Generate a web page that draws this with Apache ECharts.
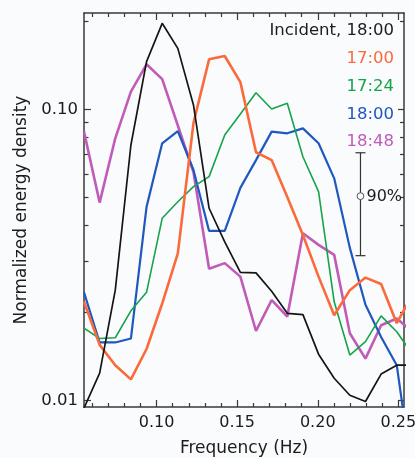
<!DOCTYPE html>
<html>
<head>
<meta charset="utf-8">
<script src="https://cdn.jsdelivr.net/npm/echarts@6/dist/echarts.min.js"></script>
<style>
  html, body { margin: 0; padding: 0; background: #fafbfd; }
  #chart { width: 415px; height: 458px; }
</style>
</head>
<body>
<div id="chart"></div>
<script>
// frequency bins (Hz)
const freq = [0.0550, 0.0647, 0.0744, 0.0841, 0.0938, 0.1035, 0.1132, 0.1229, 0.1326, 0.1423, 0.1520,
  0.1617, 0.1714, 0.1811, 0.1908, 0.2005, 0.2102, 0.2199, 0.2296, 0.2393, 0.2490, 0.2587];

// normalized energy density per series
const incident1800 = [0.0094, 0.0124, 0.0239, 0.0754, 0.1458, 0.1975, 0.162, 0.1035, 0.0457, 0.035, 0.0275,
  0.0274, 0.0237, 0.0199, 0.0197, 0.0144, 0.0119, 0.0104, 0.0099, 0.0123, 0.0132, 0.0132];
const s1700 = [0.0218, 0.0155, 0.0132, 0.0118, 0.0150, 0.0215, 0.0320, 0.0897, 0.1485, 0.1525, 0.124,
  0.0712, 0.0669, 0.0500, 0.0370, 0.0266, 0.0196, 0.0239, 0.0264, 0.0251, 0.0184, 0.0230];
const s1724 = [0.0177, 0.0163, 0.0164, 0.0203, 0.0235, 0.0422, 0.0481, 0.0542, 0.0587, 0.0816, 0.0963,
  0.114, 0.1002, 0.1049, 0.0687, 0.0521, 0.0218, 0.0143, 0.0159, 0.0195, 0.0172, 0.0144];
const s1800 = [0.0235, 0.0158, 0.0158, 0.0163, 0.0462, 0.0764, 0.0842, 0.0619, 0.0382, 0.0382, 0.0537,
  0.0669, 0.0838, 0.0827, 0.086, 0.0764, 0.0579, 0.0334, 0.0213, 0.0165, 0.0132, 0.0055];
const s1848 = [0.0838, 0.0478, 0.0795, 0.115, 0.1428, 0.127, 0.088, 0.0609, 0.0283, 0.0296, 0.0266,
  0.0173, 0.0221, 0.0194, 0.0375, 0.0342, 0.0316, 0.0170, 0.0139, 0.0181, 0.0191, 0.0172];

// 90% confidence bar: [freq, low, high, centre]
const confBar = [[0.2265, 0.0314, 0.0709, 0.0503]];

// axis ticks / labels
const xMajor = [0.10, 0.15, 0.20, 0.25];
const xMinor = [0.06, 0.07, 0.08, 0.09, 0.11, 0.12, 0.13, 0.14, 0.16, 0.17, 0.18, 0.19, 0.21, 0.22, 0.23, 0.24];
const yMajor = [0.01, 0.1];
const yMinor = [0.02, 0.03, 0.04, 0.05, 0.06, 0.07, 0.08, 0.09, 0.2];

const legendLabels = ['Incident, 18:00', '17:00', '17:24', '18:00', '18:48'];

const FONT = 'DejaVu Sans';
const FG = '#1c1c1c';
const AXIS = '#3a3a3a';
const COLORS = ['#151515', '#fb6a3a', '#17a34a', '#1f58be', '#c05cb8'];
const WIDTHS = [1.7, 2.6, 1.6, 2.2, 2.6];

const X_MIN = 0.055, X_MAX = 0.2535;
const Y_MIN = 0.00948, Y_MAX = 0.2143;

const chart = echarts.init(document.getElementById('chart'), null, { renderer: 'canvas' });

function xAx(position, ticks, len, extra) {
  return Object.assign({
    type: 'value', position: position, min: X_MIN, max: X_MAX,
    axisLine: { show: false },
    axisTick: { show: true, inside: true, length: len, customValues: ticks, lineStyle: { color: AXIS, width: 1.2 } },
    axisLabel: { show: false },
    splitLine: { show: false },
  }, extra || {});
}
function yAx(position, ticks, len, extra) {
  return Object.assign({
    type: 'log', logBase: 10, position: position, min: Y_MIN, max: Y_MAX,
    axisLine: { show: false },
    axisTick: { show: true, inside: true, length: len, customValues: ticks, lineStyle: { color: AXIS, width: 1.2 } },
    axisLabel: { show: false },
    splitLine: { show: false },
  }, extra || {});
}

const lineStyleAxis = { show: true, lineStyle: { color: AXIS, width: 1.5 } };

const series = [incident1800, s1700, s1724, s1800, s1848].map((vals, i) => ({
  name: legendLabels[i],
  type: 'line',
  data: freq.map((f, j) => [f, vals[j]]),
  symbol: 'none',
  clip: true,
  lineStyle: { color: COLORS[i], width: WIDTHS[i] },
  z: 10 - i,
}));

series.push({
  type: 'custom',
  data: confBar,
  encode: { x: 0, y: [1, 2, 3] },
  renderItem: function (params, api) {
    const f = api.value(0);
    const lo = api.coord([f, api.value(1)]);
    const hi = api.coord([f, api.value(2)]);
    const mid = api.coord([f, api.value(3)]);
    const st = { stroke: '#333', lineWidth: 1.2, fill: null };
    return {
      type: 'group',
      children: [
        { type: 'line', shape: { x1: lo[0], y1: lo[1], x2: hi[0], y2: hi[1] }, style: st },
        { type: 'line', shape: { x1: hi[0] - 5, y1: hi[1], x2: hi[0] + 5, y2: hi[1] }, style: st },
        { type: 'line', shape: { x1: lo[0] - 5, y1: lo[1], x2: lo[0] + 5, y2: lo[1] }, style: st },
        { type: 'circle', shape: { cx: mid[0], cy: mid[1], r: 3.4 }, style: { stroke: '#555', lineWidth: 1, fill: '#fafbfd' } },
        { type: 'text', x: mid[0] + 6, y: mid[1] + 1, style: { text: '90%', fill: FG, font: '16px "DejaVu Sans"', align: 'left', verticalAlign: 'middle' } },
      ],
    };
  },
  z: 20,
});

const legendY = [31, 59, 87, 115, 142];
const graphic = legendLabels.map((t, i) => ({
  type: 'text',
  right: 21,
  top: legendY[i] - 9,
  style: { text: t, fill: COLORS[i] === '#151515' ? FG : COLORS[i], font: '16.5px "DejaVu Sans"' },
  z: 30,
}));

const option = {
  backgroundColor: '#fafbfd',
  animation: false,
  textStyle: { fontFamily: FONT },
  grid: { left: 84, right: 11, top: 13, bottom: 51, containLabel: false, outerBoundsMode: 'none' },
  xAxis: [
    xAx('bottom', xMajor, 7, {
      axisLine: lineStyleAxis,
      axisLabel: {
        show: true, customValues: xMajor, margin: 8, color: FG, fontSize: 16, fontFamily: FONT,
        formatter: (v) => v.toFixed(2),
      },
      name: 'Frequency (Hz)', nameLocation: 'middle', nameGap: 33,
      nameTextStyle: { color: FG, fontSize: 17, fontFamily: FONT },
    }),
    xAx('bottom', xMinor, 4),
    xAx('top', xMajor, 7, { axisLine: lineStyleAxis }),
    xAx('top', xMinor, 4),
  ],
  yAxis: [
    yAx('left', yMajor, 7, {
      axisLine: lineStyleAxis,
      axisLabel: {
        show: true, customValues: yMajor, margin: 6, color: FG, fontSize: 16.5, fontFamily: FONT,
        formatter: (v) => v.toFixed(2),
      },
      name: 'Normalized energy density', nameLocation: 'middle', nameGap: 48, nameRotate: 90,
      nameTextStyle: { color: FG, fontSize: 17, fontFamily: FONT },
    }),
    yAx('left', yMinor, 4.5),
    yAx('right', yMajor, 6, { axisLine: lineStyleAxis }),
    yAx('right', yMinor, 4),
  ],
  graphic: graphic,
  series: series,
};

chart.setOption(option);
</script>
</body>
</html>
